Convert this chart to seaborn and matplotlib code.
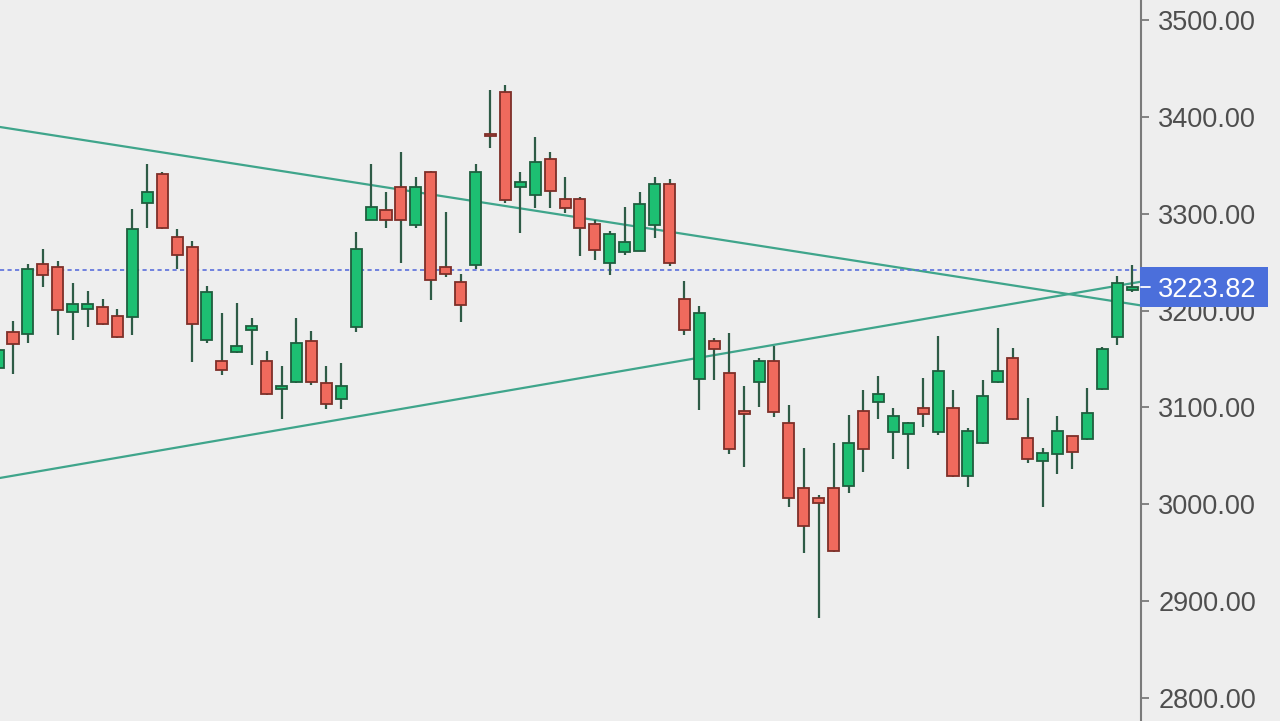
import numpy as np
import seaborn as sns
import matplotlib.pyplot as plt
from matplotlib.patches import Rectangle
from matplotlib.ticker import FormatStrFormatter


# daily candles, oldest first (first one is cut off by the left edge)
opens = [3141, 3178, 3176, 3248, 3245, 3199, 3202, 3204, 3194, 3193,
         3311, 3341, 3276, 3266, 3170, 3148, 3157, 3180, 3148, 3119,
         3126, 3169, 3125, 3109, 3183, 3294, 3304, 3328, 3288, 3343,
         3245, 3230, 3247, 3382, 3426, 3328, 3319, 3356, 3315, 3315,
         3289, 3249, 3260, 3262, 3288, 3331, 3212, 3129, 3169, 3136,
         3096, 3126, 3148, 3084, 3017, 3007, 3017, 3019, 3096, 3106,
         3075, 3073, 3099, 3075, 3099, 3029, 3063, 3126, 3151, 3068,
         3045, 3052, 3071, 3067, 3119, 3173, 3221]
highs = [3165, 3189, 3248, 3264, 3251, 3228, 3220, 3212, 3202, 3305,
         3351, 3343, 3284, 3272, 3225, 3198, 3208, 3192, 3158, 3143,
         3192, 3179, 3143, 3146, 3281, 3351, 3322, 3364, 3338, 3344,
         3302, 3238, 3351, 3428, 3433, 3343, 3379, 3364, 3338, 3317,
         3294, 3282, 3307, 3322, 3338, 3336, 3231, 3205, 3172, 3177,
         3122, 3151, 3163, 3102, 3058, 3010, 3063, 3092, 3118, 3132,
         3099, 3085, 3130, 3174, 3118, 3079, 3128, 3182, 3161, 3110,
         3058, 3091, 3071, 3120, 3162, 3236, 3247]
lows = [3133, 3134, 3166, 3224, 3175, 3170, 3183, 3185, 3172, 3175,
        3285, 3284, 3243, 3147, 3166, 3133, 3156, 3144, 3113, 3088,
        3125, 3123, 3098, 3098, 3178, 3293, 3285, 3249, 3285, 3211,
        3235, 3188, 3243, 3368, 3311, 3280, 3306, 3306, 3301, 3256,
        3252, 3237, 3257, 3261, 3275, 3246, 3175, 3097, 3128, 3052,
        3039, 3100, 3090, 2997, 2950, 2883, 2951, 3012, 3033, 3088,
        3047, 3036, 3080, 3072, 3028, 3018, 3062, 3125, 3087, 3043,
        2997, 3031, 3036, 3066, 3118, 3164, 3219]
closes = [3159, 3165, 3243, 3237, 3201, 3207, 3207, 3186, 3173, 3284,
          3322, 3285, 3257, 3186, 3219, 3139, 3163, 3184, 3114, 3122,
          3166, 3126, 3104, 3122, 3264, 3307, 3294, 3294, 3328, 3232,
          3238, 3206, 3343, 3380, 3314, 3333, 3353, 3323, 3306, 3285,
          3263, 3279, 3271, 3310, 3331, 3249, 3180, 3197, 3160, 3057,
          3093, 3148, 3095, 3007, 2978, 3001, 2952, 3063, 3057, 3114,
          3091, 3084, 3093, 3138, 3029, 3076, 3112, 3138, 3088, 3047,
          3053, 3076, 3054, 3094, 3160, 3228, 3223.82]

# hand drawn lines on the chart
ref_level = 3242
trend_x = [0.13, 76.6]
upper_trend = [3389.5, 3205.3]
lower_trend = [3027.2, 3229.8]
price_ticks = [2800, 2900, 3000, 3100, 3200, 3300, 3400, 3500]

BG = '#eeeeee'
UP_FILL, UP_EDGE = '#1dbf72', '#1f5e3e'
DN_FILL, DN_EDGE = '#ef6a5d', '#7e2f28'
WICK = '#2e5b46'
TREND = '#3fa58b'


def draw_candles(ax, o, h, l, c, width=0.74):
    o, h, l, c = map(np.asarray, (o, h, l, c))
    x = np.arange(len(o))
    up = c >= o
    ax.vlines(x, l, h, color=WICK, lw=1.6, zorder=2)
    body = c - o
    ax.bar(x[up], body[up], bottom=o[up], width=width, color=UP_FILL,
           edgecolor=UP_EDGE, linewidth=1.3, zorder=3)
    ax.bar(x[~up], body[~up], bottom=o[~up], width=width, color=DN_FILL,
           edgecolor=DN_EDGE, linewidth=1.3, zorder=3)


sns.set_theme(style='white')
plt.rcParams['font.family'] = ['Liberation Sans', 'DejaVu Sans']

fig = plt.figure(figsize=(12.8, 7.21), dpi=100, facecolor=BG)
ax = fig.add_axes([0, 0, 1141 / 1280, 1])
ax.set_facecolor(BG)

sns.lineplot(x=trend_x, y=upper_trend, ax=ax, color=TREND, lw=1.6, zorder=1)
sns.lineplot(x=trend_x, y=lower_trend, ax=ax, color=TREND, lw=1.6, zorder=1)
ax.axhline(ref_level, color='#5b6fdc', lw=1.2, ls=(0, (2.5, 2)), zorder=1)

draw_candles(ax, opens, highs, lows, closes)

ax.set_xlim(0.13, 76.6)
ax.set_ylim(2776.3, 3520.6)
for side in ['top', 'left', 'bottom']:
    ax.spines[side].set_visible(False)
ax.spines['right'].set_color('#7a7a7a')
ax.spines['right'].set_linewidth(1.5)
ax.set_xticks([])
ax.yaxis.tick_right()
ax.set_yticks(price_ticks)
ax.yaxis.set_major_formatter(FormatStrFormatter('%.2f'))
ax.tick_params(axis='y', right=True, length=6, width=1.3, color='#7a7a7a',
               labelsize=19.5, labelcolor='#4e4e4e', pad=6.5)
ax.set_xlabel('')
ax.set_ylabel('')

# last price tag on the axis
last = closes[-1]
tr = ax.get_yaxis_transform()
ax.add_patch(Rectangle((0.999, last - 20.6), 0.112, 41.3, transform=tr,
                       facecolor='#4b6fdb', edgecolor='none', clip_on=False, zorder=5))
ax.plot([1.0, 1.008], [last, last], transform=tr, color='white', lw=1.3,
        clip_on=False, zorder=6)
ax.text(1.0149, last, '{:.2f}'.format(last), transform=tr, color='white',
        fontsize=19.5, ha='left', va='center_baseline', zorder=6)

fig.savefig('out.png', dpi=100, facecolor=BG)
